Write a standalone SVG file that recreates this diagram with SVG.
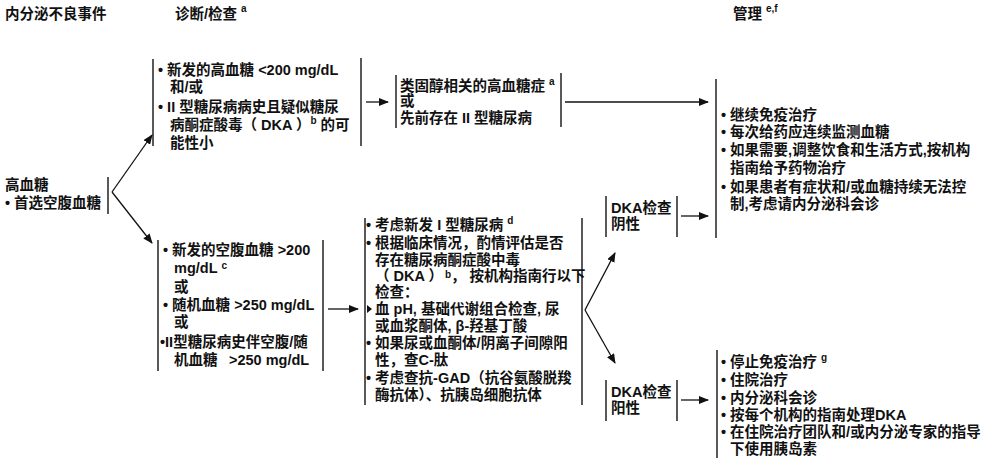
<svg xmlns="http://www.w3.org/2000/svg" width="992" height="460" viewBox="0 0 992 460">
<defs>
<style>
text{font-family:"Liberation Sans","Noto Sans CJK SC",sans-serif;font-weight:bold;font-size:14.5px;fill:#111;}
.sup{font-size:10px;font-weight:bold;}
.br{stroke:#222;stroke-width:1.5;fill:none;}
.cn{stroke:#111;stroke-width:1.3;fill:none;}
</style>
<marker id="ah" markerWidth="10" markerHeight="8" refX="9" refY="4" orient="auto" markerUnits="userSpaceOnUse">
<path d="M0,0 L10,4 L0,8 Z" fill="#111"/>
</marker>
</defs>
<rect width="992" height="460" fill="#fff"/>

<g id="headers">
<text x="5" y="19">内分泌不良事件</text>
<text x="175" y="19">诊断/检查<tspan class="sup" dx="4" dy="-7">a</tspan></text>
<text x="733" y="19">管理<tspan class="sup" dx="4" dy="-7">e,f</tspan></text>
</g>

<g id="hyperglycemia">
<text x="5" y="190">高血糖</text>
<text x="5" y="208">• 首选空腹血糖</text>
<line class="br" x1="108" y1="177" x2="108" y2="214"/>
</g>

<g id="diag-top">
<line class="br" x1="153" y1="59" x2="153" y2="146"/>
<line class="br" x1="361" y1="58" x2="361" y2="146"/>
<text x="158" y="75">• 新发的高血糖 &lt;200 mg/dL</text>
<text x="170" y="92">和/或</text>
<text x="158" y="112">• II 型糖尿病病史且疑似糖尿</text>
<text x="170" y="130">病酮症酸毒（ DKA ）<tspan class="sup" dy="-6">b</tspan><tspan dy="6"> 的可</tspan></text>
<text x="170" y="148">能性小</text>
</g>

<g id="steroid">
<line class="br" x1="396" y1="75" x2="396" y2="128"/>
<line class="br" x1="561" y1="73" x2="561" y2="127"/>
<text x="400" y="91">类固醇相关的高血糖症<tspan class="sup" dx="4" dy="-6">a</tspan></text>
<text x="400" y="106">或</text>
<text x="400" y="123">先前存在 II 型糖尿病</text>
</g>

<g id="diag-bottom">
<line class="br" x1="158" y1="240" x2="158" y2="371"/>
<line class="br" x1="323" y1="240" x2="323" y2="371"/>
<text x="163" y="255">• 新发的空腹血糖 &gt;200</text>
<text x="174" y="273">mg/dL<tspan class="sup" dx="4" dy="-4">c</tspan></text>
<text x="174" y="292">或</text>
<text x="163" y="310">• 随机血糖 &gt;250 mg/dL</text>
<text x="174" y="327">或</text>
<text x="160" y="347">•II型糖尿病史伴空腹/随</text>
<text x="174" y="365">机血糖<tspan x="229">&gt;250 mg/dL</tspan></text>
</g>

<g id="type1">
<line class="br" x1="365" y1="218" x2="365" y2="405"/>
<line class="br" x1="582" y1="218" x2="582" y2="405"/>
<text x="366" y="230">• 考虑新发 I 型糖尿病<tspan class="sup" dx="4" dy="-6">d</tspan></text>
<text x="366" y="248">• 根据临床情况，酌情评估是否</text>
<text x="375" y="265">存在糖尿病酮症酸中毒</text>
<text x="375" y="281">（ DKA ）<tspan class="sup" dx="2" dy="-3">b</tspan><tspan dy="3">，  按机构指南行以下</tspan></text>
<text x="375" y="297">检查：</text>
<path d="M367,305 L372,309 L367,313 Z" fill="#111"/>
<text x="375" y="314">血 pH, 基础代谢组合检查, 尿</text>
<text x="375" y="331">或血浆酮体, β-羟基丁酸</text>
<text x="366" y="348">• 如果尿或血酮体/阴离子间隙阳</text>
<text x="375" y="365">性，查C-肽</text>
<text x="366" y="383">• 考虑查抗-GAD（抗谷氨酸脱羧</text>
<text x="375" y="400">酶抗体）、抗胰岛细胞抗体</text>
</g>

<g id="dka-neg">
<line class="br" x1="606" y1="196" x2="606" y2="237"/>
<line class="br" x1="677" y1="196" x2="677" y2="237"/>
<text x="611" y="213">DKA检查</text>
<text x="611" y="229">阴性</text>
</g>

<g id="dka-pos">
<line class="br" x1="606" y1="380" x2="606" y2="421"/>
<line class="br" x1="677" y1="380" x2="677" y2="421"/>
<text x="611" y="397">DKA检查</text>
<text x="611" y="413">阳性</text>
</g>

<g id="mgmt-top">
<line class="br" x1="716" y1="79" x2="716" y2="238"/>
<text x="721" y="120">• 继续免疫治疗</text>
<text x="721" y="137">• 每次给药应连续监测血糖</text>
<text x="721" y="155">• 如果需要,调整饮食和生活方式,按机构</text>
<text x="730" y="173">指南给予药物治疗</text>
<text x="721" y="192">• 如果患者有症状和/或血糖持续无法控</text>
<text x="730" y="209">制,考虑请内分泌科会诊</text>
</g>

<g id="mgmt-bottom">
<line class="br" x1="717" y1="350" x2="717" y2="458"/>
<text x="721" y="367">• 停止免疫治疗<tspan class="sup" dx="4" dy="-6">g</tspan></text>
<text x="721" y="385">• 住院治疗</text>
<text x="721" y="403">• 内分泌科会诊</text>
<text x="721" y="420">• 按每个机构的指南处理DKA</text>
<text x="721" y="437">• 在住院治疗团队和/或内分泌专家的指导</text>
<text x="730" y="454">下使用胰岛素</text>
</g>

<g id="connectors">
<line class="cn" x1="112" y1="192" x2="152" y2="135" marker-end="url(#ah)"/>
<line class="cn" x1="112" y1="192" x2="152" y2="243" marker-end="url(#ah)"/>
<line class="cn" x1="366" y1="102" x2="388" y2="102" marker-end="url(#ah)"/>
<line class="cn" x1="565" y1="102" x2="708" y2="102" marker-end="url(#ah)"/>
<line class="cn" x1="328" y1="309" x2="358" y2="309" marker-end="url(#ah)"/>
<line class="cn" x1="585" y1="310" x2="615" y2="253" marker-end="url(#ah)"/>
<line class="cn" x1="585" y1="310" x2="615" y2="363" marker-end="url(#ah)"/>
<line class="cn" x1="681" y1="216" x2="708" y2="216" marker-end="url(#ah)"/>
<line class="cn" x1="681" y1="400" x2="708" y2="400" marker-end="url(#ah)"/>
</g>
</svg>
